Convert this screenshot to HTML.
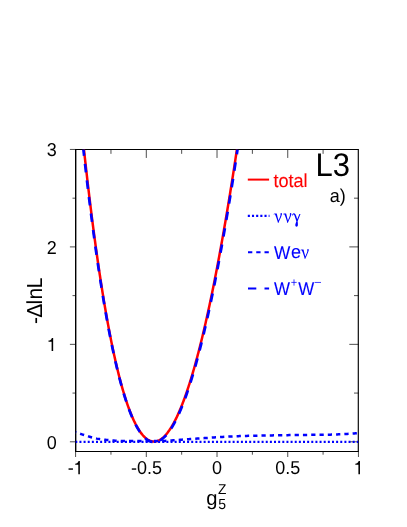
<!DOCTYPE html>
<html><head><meta charset="utf-8"><style>
html,body{margin:0;padding:0;background:#fff;}
svg{display:block;font-family:"Liberation Sans",sans-serif;will-change:transform;}
text{text-rendering:geometricPrecision;}
</style></head><body>
<svg width="407" height="527" viewBox="0 0 407 527">
<rect width="407" height="527" fill="#fff"/>
<g fill="none" stroke="#000">
<path d="M75.7,149.5 H358.4 M358.4,451.5 H75.7" stroke-width="1"/>
<path d="M358.3,149 V452" stroke-width="1.15"/>
<path d="M75.7,149 V452" stroke-width="1.4"/>
<path d="M75.70,441.80 h-5.80 M358.50,441.80 h-9.20 M75.70,393.07 h-3.20 M358.50,393.07 h-4.50 M75.70,344.35 h-5.80 M358.50,344.35 h-9.20 M75.70,295.62 h-3.20 M358.50,295.62 h-4.50 M75.70,246.90 h-5.80 M358.50,246.90 h-9.20 M75.70,198.18 h-3.20 M358.50,198.18 h-4.50 M75.70,149.45 h-5.80 M75.60,451.50 v5.50 M110.96,451.50 v3.20 M110.96,149.45 v4.40 M146.31,451.50 v5.50 M146.31,149.45 v8.50 M181.67,451.50 v3.20 M181.67,149.45 v4.40 M217.03,451.50 v5.50 M217.03,149.45 v8.50 M252.38,451.50 v3.20 M252.38,149.45 v4.40 M287.74,451.50 v5.50 M287.74,149.45 v8.50 M323.09,451.50 v3.20 M323.09,149.45 v4.40 M358.45,451.50 v5.50" stroke-width="0.7"/>
</g>
<clipPath id="cp"><rect x="75.6" y="149.45" width="282.85" height="302.05"/></clipPath>
<g fill="none" stroke-linecap="butt" stroke-linejoin="round" clip-path="url(#cp)">
<path d="M83.96,149.45 L84.09,150.63 L84.44,153.87 L84.79,157.09 L85.15,160.29 L85.50,163.47 L85.85,166.63 L86.21,169.77 L86.56,172.88 L86.91,175.97 L87.27,179.05 L87.62,182.10 L87.97,185.13 L88.33,188.14 L88.68,191.13 L89.04,194.10 L89.39,197.05 L89.74,199.97 L90.10,202.88 L90.45,205.76 L90.80,208.63 L91.16,211.47 L91.51,214.30 L91.86,217.10 L92.22,219.88 L92.57,222.65 L92.92,225.39 L93.28,228.12 L93.63,230.82 L93.99,233.51 L94.34,236.17 L94.69,238.81 L95.05,241.44 L95.40,244.04 L95.75,246.63 L96.11,249.19 L96.46,251.73 L96.81,254.25 L97.17,256.76 L97.52,259.24 L97.87,261.70 L98.23,264.15 L98.58,266.57 L98.94,268.97 L99.29,271.35 L99.64,273.72 L100.00,276.06 L100.35,278.39 L100.70,280.70 L101.06,282.99 L101.41,285.25 L101.76,287.51 L102.12,289.74 L102.47,291.95 L102.82,294.14 L103.18,296.32 L103.53,298.48 L103.88,300.62 L104.24,302.74 L104.59,304.84 L104.95,306.92 L105.30,308.99 L105.65,311.04 L106.01,313.07 L106.36,315.08 L106.71,317.08 L107.07,319.05 L107.42,321.01 L107.77,322.95 L108.13,324.87 L108.48,326.78 L108.83,328.67 L109.19,330.54 L109.54,332.39 L109.90,334.23 L110.25,336.05 L110.60,337.85 L110.96,339.63 L111.31,341.40 L111.66,343.15 L112.02,344.88 L112.37,346.60 L112.72,348.29 L113.08,349.97 L113.43,351.64 L113.78,353.28 L114.14,354.91 L114.49,356.53 L114.85,358.12 L115.20,359.70 L115.55,361.26 L115.91,362.81 L116.26,364.34 L116.61,365.85 L116.97,367.35 L117.32,368.83 L117.67,370.29 L118.03,371.74 L118.38,373.17 L118.73,374.59 L119.09,375.98 L119.44,377.37 L119.80,378.73 L120.15,380.09 L120.50,381.42 L120.86,382.74 L121.21,384.04 L121.56,385.33 L121.92,386.60 L122.27,387.85 L122.62,389.09 L122.98,390.32 L123.33,391.52 L123.68,392.72 L124.04,393.89 L124.39,395.05 L124.75,396.20 L125.10,397.33 L125.45,398.44 L125.81,399.54 L126.16,400.62 L126.51,401.69 L126.87,402.74 L127.22,403.78 L127.57,404.80 L127.93,405.81 L128.28,406.80 L128.63,407.78 L128.99,408.74 L129.34,409.69 L129.70,410.63 L130.05,411.54 L130.40,412.45 L130.76,413.34 L131.11,414.21 L131.46,415.07 L131.82,415.92 L132.17,416.75 L132.52,417.57 L132.88,418.37 L133.23,419.16 L133.58,419.93 L133.94,420.69 L134.29,421.44 L134.64,422.17 L135.00,422.88 L135.35,423.59 L135.71,424.27 L136.06,424.95 L136.41,425.61 L136.77,426.25 L137.12,426.89 L137.47,427.51 L137.83,428.11 L138.18,428.70 L138.53,429.28 L138.89,429.84 L139.24,430.39 L139.59,430.92 L139.95,431.45 L140.30,431.95 L140.66,432.45 L141.01,432.93 L141.36,433.40 L141.72,433.85 L142.07,434.29 L142.42,434.72 L142.78,435.13 L143.13,435.54 L143.48,435.92 L143.84,436.30 L144.19,436.66 L144.54,437.01 L144.90,437.34 L145.25,437.66 L145.61,437.97 L145.96,438.27 L146.31,438.55 L146.67,438.82 L147.02,439.08 L147.37,439.32 L147.73,439.55 L148.08,439.77 L148.43,439.97 L148.79,440.17 L149.14,440.35 L149.49,440.51 L149.85,440.67 L150.20,440.81 L150.56,440.94 L150.91,441.06 L151.26,441.16 L151.62,441.25 L151.97,441.33 L152.32,441.40 L152.68,441.45 L153.03,441.49 L153.38,441.52 L153.74,441.54 L154.09,441.54 L154.44,441.54 L154.80,441.52 L155.15,441.49 L155.51,441.44 L155.86,441.38 L156.21,441.32 L156.57,441.24 L156.92,441.14 L157.27,441.04 L157.63,440.92 L157.98,440.79 L158.33,440.65 L158.69,440.50 L159.04,440.33 L159.39,440.15 L159.75,439.96 L160.10,439.76 L160.45,439.54 L160.81,439.32 L161.16,439.08 L161.52,438.83 L161.87,438.56 L162.22,438.29 L162.58,438.00 L162.93,437.70 L163.28,437.39 L163.64,437.07 L163.99,436.73 L164.34,436.38 L164.70,436.03 L165.05,435.66 L165.40,435.28 L165.76,434.89 L166.11,434.48 L166.47,434.07 L166.82,433.64 L167.17,433.21 L167.53,432.76 L167.88,432.30 L168.23,431.83 L168.59,431.34 L168.94,430.85 L169.29,430.35 L169.65,429.83 L170.00,429.30 L170.35,428.76 L170.71,428.21 L171.06,427.65 L171.42,427.08 L171.77,426.49 L172.12,425.90 L172.48,425.29 L172.83,424.67 L173.18,424.05 L173.54,423.41 L173.89,422.76 L174.24,422.10 L174.60,421.42 L174.95,420.74 L175.30,420.05 L175.66,419.34 L176.01,418.63 L176.37,417.90 L176.72,417.17 L177.07,416.42 L177.43,415.66 L177.78,414.90 L178.13,414.12 L178.49,413.33 L178.84,412.53 L179.19,411.72 L179.55,410.90 L179.90,410.07 L180.25,409.23 L180.61,408.38 L180.96,407.52 L181.32,406.65 L181.67,405.77 L182.02,404.87 L182.38,403.97 L182.73,403.06 L183.08,402.13 L183.44,401.20 L183.79,400.26 L184.14,399.30 L184.50,398.34 L184.85,397.36 L185.20,396.38 L185.56,395.38 L185.91,394.38 L186.27,393.36 L186.62,392.34 L186.97,391.30 L187.33,390.26 L187.68,389.20 L188.03,388.14 L188.39,387.06 L188.74,385.98 L189.09,384.88 L189.45,383.78 L189.80,382.66 L190.15,381.54 L190.51,380.40 L190.86,379.25 L191.21,378.10 L191.57,376.93 L191.92,375.76 L192.28,374.58 L192.63,373.38 L192.98,372.18 L193.34,370.96 L193.69,369.74 L194.04,368.51 L194.40,367.26 L194.75,366.01 L195.10,364.75 L195.46,363.47 L195.81,362.19 L196.16,360.90 L196.52,359.60 L196.87,358.29 L197.23,356.97 L197.58,355.64 L197.93,354.30 L198.29,352.95 L198.64,351.59 L198.99,350.22 L199.35,348.84 L199.70,347.45 L200.05,346.05 L200.41,344.65 L200.76,343.23 L201.11,341.80 L201.47,340.37 L201.82,338.92 L202.18,337.47 L202.53,336.01 L202.88,334.53 L203.24,333.05 L203.59,331.56 L203.94,330.06 L204.30,328.54 L204.65,327.02 L205.00,325.49 L205.36,323.95 L205.71,322.41 L206.06,320.85 L206.42,319.28 L206.77,317.70 L207.13,316.12 L207.48,314.52 L207.83,312.91 L208.19,311.30 L208.54,309.68 L208.89,308.04 L209.25,306.40 L209.60,304.75 L209.95,303.09 L210.31,301.42 L210.66,299.74 L211.01,298.05 L211.37,296.35 L211.72,294.64 L212.08,292.92 L212.43,291.20 L212.78,289.46 L213.14,287.72 L213.49,285.96 L213.84,284.20 L214.20,282.43 L214.55,280.65 L214.90,278.86 L215.26,277.06 L215.61,275.25 L215.96,273.43 L216.32,271.60 L216.67,269.76 L217.03,267.92 L217.38,266.06 L217.73,264.20 L218.09,262.32 L218.44,260.44 L218.79,258.55 L219.15,256.65 L219.50,254.74 L219.85,252.82 L220.21,250.89 L220.56,248.95 L220.91,247.01 L221.27,245.05 L221.62,243.09 L221.97,241.11 L222.33,239.13 L222.68,237.14 L223.04,235.14 L223.39,233.13 L223.74,231.11 L224.10,229.08 L224.45,227.04 L224.80,225.00 L225.16,222.94 L225.51,220.88 L225.86,218.80 L226.22,216.72 L226.57,214.63 L226.92,212.53 L227.28,210.42 L227.63,208.30 L227.99,206.17 L228.34,204.03 L228.69,201.89 L229.05,199.73 L229.40,197.57 L229.75,195.39 L230.11,193.21 L230.46,191.02 L230.81,188.82 L231.17,186.61 L231.52,184.39 L231.87,182.16 L232.23,179.93 L232.58,177.68 L232.94,175.43 L233.29,173.16 L233.64,170.89 L234.00,168.61 L234.35,166.32 L234.70,164.02 L235.06,161.71 L235.41,159.39 L235.76,157.06 L236.12,154.72 L236.47,152.38 L236.82,150.02 L236.91,149.45" stroke="#ff0000" stroke-width="2.5"/>
<path d="M75.30,441.80 L358.50,441.80" stroke="#0000ff" stroke-width="2.3" stroke-dasharray="2 2.14" stroke-dashoffset="0"/>
<path d="M75.60,432.25 L77.01,432.72 L78.43,433.19 L79.84,433.66 L81.26,434.12 L82.67,434.58 L84.09,435.04 L85.50,435.50 L86.91,435.96 L88.33,436.40 L89.74,436.81 L91.16,437.20 L92.57,437.58 L93.99,437.96 L95.40,438.30 L96.81,438.61 L98.23,438.88 L99.64,439.10 L101.06,439.30 L102.47,439.48 L103.88,439.65 L105.30,439.81 L106.71,439.95 L108.13,440.09 L109.54,440.22 L110.96,440.34 L112.37,440.45 L113.78,440.55 L115.20,440.63 L116.61,440.71 L118.03,440.78 L119.44,440.85 L120.86,440.91 L122.27,440.96 L123.68,441.00 L125.10,441.02 L126.51,441.04 L127.93,441.05 L129.34,441.07 L130.76,441.08 L132.17,441.09 L133.58,441.10 L135.00,441.11 L136.41,441.11 L137.83,441.12 L139.24,441.12 L140.66,441.12 L142.07,441.12 L143.48,441.12 L144.90,441.12 L146.31,441.12 L147.73,441.12 L149.14,441.12 L150.56,441.12 L151.97,441.12 L153.38,441.12 L154.80,441.12 L156.21,441.12 L157.63,441.12 L159.04,441.11 L160.45,441.07 L161.87,441.02 L163.28,440.95 L164.70,440.88 L166.11,440.80 L167.53,440.73 L168.94,440.65 L170.35,440.56 L171.77,440.46 L173.18,440.35 L174.60,440.24 L176.01,440.12 L177.43,440.01 L178.84,439.90 L180.25,439.79 L181.67,439.69 L183.08,439.59 L184.50,439.48 L185.91,439.38 L187.33,439.28 L188.74,439.17 L190.15,439.07 L191.57,438.97 L192.98,438.87 L194.40,438.77 L195.81,438.67 L197.23,438.57 L198.64,438.47 L200.05,438.38 L201.47,438.28 L202.88,438.19 L204.30,438.10 L205.71,438.01 L207.13,437.92 L208.54,437.83 L209.95,437.74 L211.37,437.64 L212.78,437.55 L214.20,437.46 L215.61,437.37 L217.03,437.28 L218.44,437.19 L219.85,437.10 L221.27,437.01 L222.68,436.93 L224.10,436.84 L225.51,436.76 L226.92,436.68 L228.34,436.60 L229.75,436.53 L231.17,436.46 L232.58,436.39 L234.00,436.33 L235.41,436.27 L236.82,436.21 L238.24,436.16 L239.65,436.11 L241.07,436.07 L242.48,436.03 L243.90,435.99 L245.31,435.95 L246.72,435.91 L248.14,435.87 L249.55,435.84 L250.97,435.80 L252.38,435.77 L253.80,435.74 L255.21,435.71 L256.62,435.68 L258.04,435.65 L259.45,435.62 L260.87,435.60 L262.28,435.57 L263.70,435.54 L265.11,435.52 L266.52,435.49 L267.94,435.47 L269.35,435.44 L270.77,435.42 L272.18,435.39 L273.60,435.37 L275.01,435.34 L276.42,435.32 L277.84,435.30 L279.25,435.27 L280.67,435.25 L282.08,435.23 L283.49,435.21 L284.91,435.18 L286.32,435.16 L287.74,435.14 L289.15,435.12 L290.57,435.10 L291.98,435.08 L293.39,435.06 L294.81,435.04 L296.22,435.03 L297.64,435.01 L299.05,434.99 L300.47,434.97 L301.88,434.96 L303.29,434.94 L304.71,434.93 L306.12,434.92 L307.54,434.90 L308.95,434.89 L310.37,434.88 L311.78,434.87 L313.19,434.86 L314.61,434.84 L316.02,434.83 L317.44,434.82 L318.85,434.81 L320.27,434.79 L321.68,434.78 L323.09,434.76 L324.51,434.74 L325.92,434.72 L327.34,434.70 L328.75,434.67 L330.17,434.64 L331.58,434.61 L332.99,434.57 L334.41,434.52 L335.82,434.47 L337.24,434.42 L338.65,434.36 L340.06,434.30 L341.48,434.24 L342.89,434.17 L344.31,434.10 L345.72,434.03 L347.14,433.94 L348.55,433.85 L349.96,433.75 L351.38,433.65 L352.79,433.53 L354.21,433.41 L355.62,433.29 L357.04,433.16 L358.45,433.03" stroke="#0000ff" stroke-width="2.5" stroke-dasharray="4.25 4.04" stroke-dashoffset="3.55"/>
<path d="M83.39,149.45 L83.73,152.53 L84.09,155.70 L84.44,158.86 L84.79,161.99 L85.15,165.10 L85.50,168.19 L85.85,171.27 L86.21,174.32 L86.56,177.35 L86.91,180.36 L87.27,183.35 L87.62,186.31 L87.97,189.26 L88.33,192.19 L88.68,195.10 L89.04,197.99 L89.39,200.86 L89.74,203.71 L90.10,206.55 L90.45,209.36 L90.80,212.15 L91.16,214.92 L91.51,217.67 L91.86,220.41 L92.22,223.12 L92.57,225.81 L92.92,228.48 L93.28,231.14 L93.63,233.77 L93.99,236.39 L94.34,238.99 L94.69,241.56 L95.05,244.12 L95.40,246.66 L95.75,249.19 L96.11,251.69 L96.46,254.18 L96.81,256.64 L97.17,259.09 L97.52,261.53 L97.87,263.94 L98.23,266.34 L98.58,268.72 L98.94,271.08 L99.29,273.42 L99.64,275.74 L100.00,278.05 L100.35,280.34 L100.70,282.61 L101.06,284.86 L101.41,287.09 L101.76,289.31 L102.12,291.51 L102.47,293.69 L102.82,295.85 L103.18,297.99 L103.53,300.12 L103.88,302.23 L104.24,304.32 L104.59,306.39 L104.95,308.45 L105.30,310.49 L105.65,312.51 L106.01,314.51 L106.36,316.50 L106.71,318.46 L107.07,320.41 L107.42,322.35 L107.77,324.26 L108.13,326.16 L108.48,328.04 L108.83,329.91 L109.19,331.75 L109.54,333.58 L109.90,335.39 L110.25,337.19 L110.60,338.97 L110.96,340.73 L111.31,342.48 L111.66,344.20 L112.02,345.91 L112.37,347.61 L112.72,349.29 L113.08,350.95 L113.43,352.60 L113.78,354.22 L114.14,355.84 L114.49,357.43 L114.85,359.01 L115.20,360.58 L115.55,362.13 L115.91,363.66 L116.26,365.17 L116.61,366.67 L116.97,368.15 L117.32,369.62 L117.67,371.07 L118.03,372.51 L118.38,373.92 L118.73,375.33 L119.09,376.71 L119.44,378.08 L119.80,379.44 L120.15,380.78 L120.50,382.10 L120.86,383.41 L121.21,384.70 L121.56,385.98 L121.92,387.24 L122.27,388.49 L122.62,389.72 L122.98,390.93 L123.33,392.13 L123.68,393.32 L124.04,394.49 L124.39,395.64 L124.75,396.78 L125.10,397.91 L125.45,399.02 L125.81,400.12 L126.16,401.20 L126.51,402.26 L126.87,403.31 L127.22,404.35 L127.57,405.37 L127.93,406.37 L128.28,407.36 L128.63,408.34 L128.99,409.30 L129.34,410.24 L129.70,411.17 L130.05,412.09 L130.40,412.99 L130.76,413.88 L131.11,414.75 L131.46,415.61 L131.82,416.45 L132.17,417.28 L132.52,418.10 L132.88,418.90 L133.23,419.68 L133.58,420.46 L133.94,421.21 L134.29,421.96 L134.64,422.69 L135.00,423.40 L135.35,424.10 L135.71,424.79 L136.06,425.46 L136.41,426.12 L136.77,426.77 L137.12,427.40 L137.47,428.02 L137.83,428.62 L138.18,429.21 L138.53,429.79 L138.89,430.35 L139.24,430.90 L139.59,431.44 L139.95,431.96 L140.30,432.47 L140.66,432.96 L141.01,433.44 L141.36,433.91 L141.72,434.36 L142.07,434.80 L142.42,435.23 L142.78,435.65 L143.13,436.05 L143.48,436.43 L143.84,436.81 L144.19,437.17 L144.54,437.52 L144.90,437.85 L145.25,438.17 L145.61,438.48 L145.96,438.78 L146.31,439.06 L146.67,439.33 L147.02,439.59 L147.37,439.83 L147.73,440.06 L148.08,440.28 L148.43,440.49 L148.79,440.68 L149.14,440.86 L149.49,441.03 L149.85,441.18 L150.20,441.32 L150.56,441.45 L150.91,441.57 L151.26,441.67 L151.62,441.76 L151.97,441.84 L152.32,441.91 L152.68,441.96 L153.03,442.00 L153.38,442.03 L153.74,442.05 L154.09,442.06" stroke="#0000ff" stroke-width="2.7" stroke-dasharray="8.45 8.2" stroke-dashoffset="2.11"/>
<path d="M237.54,149.45 L237.53,149.50 L237.18,151.86 L236.82,154.22 L236.47,156.56 L236.12,158.89 L235.76,161.22 L235.41,163.54 L235.06,165.84 L234.70,168.14 L234.35,170.43 L234.00,172.71 L233.64,174.98 L233.29,177.24 L232.94,179.49 L232.58,181.74 L232.23,183.97 L231.87,186.19 L231.52,188.41 L231.17,190.61 L230.81,192.81 L230.46,195.00 L230.11,197.18 L229.75,199.35 L229.40,201.51 L229.05,203.66 L228.69,205.80 L228.34,207.93 L227.99,210.05 L227.63,212.17 L227.28,214.27 L226.92,216.37 L226.57,218.45 L226.22,220.53 L225.86,222.60 L225.51,224.66 L225.16,226.71 L224.80,228.75 L224.45,230.78 L224.10,232.80 L223.74,234.81 L223.39,236.82 L223.04,238.81 L222.68,240.80 L222.33,242.77 L221.97,244.74 L221.62,246.70 L221.27,248.64 L220.91,250.58 L220.56,252.51 L220.21,254.43 L219.85,256.35 L219.50,258.25 L219.15,260.14 L218.79,262.03 L218.44,263.90 L218.09,265.77 L217.73,267.62 L217.38,269.47 L217.03,271.31 L216.67,273.14 L216.32,274.96 L215.96,276.77 L215.61,278.57 L215.26,280.36 L214.90,282.15 L214.55,283.92 L214.20,285.68 L213.84,287.44 L213.49,289.18 L213.14,290.92 L212.78,292.65 L212.43,294.37 L212.08,296.08 L211.72,297.78 L211.37,299.47 L211.01,301.15 L210.66,302.82 L210.31,304.48 L209.95,306.13 L209.60,307.78 L209.25,309.41 L208.89,311.04 L208.54,312.65 L208.19,314.26 L207.83,315.86 L207.48,317.45 L207.13,319.02 L206.77,320.59 L206.42,322.15 L206.06,323.70 L205.71,325.25 L205.36,326.78 L205.00,328.30 L204.65,329.81 L204.30,331.32 L203.94,332.81 L203.59,334.30 L203.24,335.77 L202.88,337.24 L202.53,338.69 L202.18,340.14 L201.82,341.58 L201.47,343.01 L201.11,344.42 L200.76,345.83 L200.41,347.23 L200.05,348.62 L199.70,350.00 L199.35,351.37 L198.99,352.73 L198.64,354.08 L198.29,355.42 L197.93,356.75 L197.58,358.08 L197.23,359.39 L196.87,360.69 L196.52,361.98 L196.16,363.27 L195.81,364.54 L195.46,365.80 L195.10,367.06 L194.75,368.30 L194.40,369.54 L194.04,370.76 L193.69,371.98 L193.34,373.18 L192.98,374.38 L192.63,375.56 L192.28,376.74 L191.92,377.90 L191.57,379.06 L191.21,380.20 L190.86,381.34 L190.51,382.47 L190.15,383.58 L189.80,384.69 L189.45,385.78 L189.09,386.87 L188.74,387.95 L188.39,389.01 L188.03,390.07 L187.68,391.12 L187.33,392.15 L186.97,393.18 L186.62,394.19 L186.27,395.20 L185.91,396.20 L185.56,397.18 L185.20,398.16 L184.85,399.12 L184.50,400.08 L184.14,401.02 L183.79,401.96 L183.44,402.88 L183.08,403.79 L182.73,404.70 L182.38,405.59 L182.02,406.47 L181.67,407.35 L181.32,408.21 L180.96,409.06 L180.61,409.90 L180.25,410.74 L179.90,411.56 L179.55,412.37 L179.19,413.17 L178.84,413.96 L178.49,414.74 L178.13,415.50 L177.78,416.26 L177.43,417.01 L177.07,417.74 L176.72,418.47 L176.37,419.18 L176.01,419.89 L175.66,420.58 L175.30,421.26 L174.95,421.93 L174.60,422.60 L174.24,423.25 L173.89,423.89 L173.54,424.52 L173.18,425.13 L172.83,425.74 L172.48,426.34 L172.12,426.92 L171.77,427.50 L171.42,428.06 L171.06,428.62 L170.71,429.16 L170.35,429.69 L170.00,430.21 L169.65,430.72 L169.29,431.22 L168.94,431.71 L168.59,432.19 L168.23,432.66 L167.88,433.12 L167.53,433.56 L167.17,434.00 L166.82,434.42 L166.47,434.83 L166.11,435.23 L165.76,435.62 L165.40,436.00 L165.05,436.36 L164.70,436.72 L164.34,437.06 L163.99,437.39 L163.64,437.71 L163.28,438.02 L162.93,438.32 L162.58,438.61 L162.22,438.88 L161.87,439.15 L161.52,439.40 L161.16,439.64 L160.81,439.87 L160.45,440.09 L160.10,440.30 L159.75,440.50 L159.39,440.68 L159.04,440.85 L158.69,441.02 L158.33,441.17 L157.98,441.31 L157.63,441.43 L157.27,441.55 L156.92,441.66 L156.57,441.75 L156.21,441.83 L155.86,441.90 L155.51,441.95 L155.15,442.00 L154.80,442.03 L154.44,442.05 L154.09,442.06" stroke="#0000ff" stroke-width="2.7" stroke-dasharray="8.45 8.2" stroke-dashoffset="3.55"/>
</g>
<g fill="#000"><text transform="translate(56.70,448.50) scale(1.0000,1.0350)" font-size="18.00px" text-anchor="end">0</text><text transform="translate(56.70,253.60) scale(1.0000,1.0350)" font-size="18.00px" text-anchor="end">2</text><text transform="translate(56.70,156.15) scale(1.0000,1.0350)" font-size="18.00px" text-anchor="end">3</text><path transform="translate(46.70,351.05) scale(0.01800,-0.01863)" d="M359,0 L273,0 L273,505 L101,505 L101,565 C190,565 250,610 289,703 L359,703 Z"/><text transform="translate(146.41,474.20) scale(1.0000,1.0350)" font-size="18.00px" text-anchor="middle">-0.5</text><text transform="translate(217.12,474.20) scale(1.0000,1.0350)" font-size="18.00px" text-anchor="middle">0</text><text transform="translate(287.84,474.20) scale(1.0000,1.0350)" font-size="18.00px" text-anchor="middle">0.5</text><text transform="translate(67.70,474.20) scale(1.0000,1.0350)" font-size="18.00px">-</text><path transform="translate(73.40,474.20) scale(0.01800,-0.01863)" d="M359,0 L273,0 L273,505 L101,505 L101,565 C190,565 250,610 289,703 L359,703 Z"/><path transform="translate(353.50,474.20) scale(0.01800,-0.01863)" d="M359,0 L273,0 L273,505 L101,505 L101,565 C190,565 250,610 289,703 L359,703 Z"/></g>
<g fill="none" stroke-linecap="butt">
<path d="M247.8,179.6 H269.1" stroke="#ff0000" stroke-width="2"/>
<path d="M247.8,215.9 H269.5" stroke="#0000ff" stroke-width="2.3" stroke-dasharray="2.1 2.07"/>
<path d="M248,252.3 H269.1" stroke="#0000ff" stroke-width="1.9" stroke-dasharray="4.3 3.95"/>
<path d="M248,288.4 H269.1" stroke="#0000ff" stroke-width="2" stroke-dasharray="8.3 8.2"/>
</g>
<g fill="#000"><text transform="translate(42.2,323.90) rotate(-90) scale(1.000,1.035)" font-size="21.00px">-</text><text transform="translate(42.2,317.70) rotate(-90) scale(1.000,1.035)" font-size="21.00px">Δ</text><text transform="translate(42.2,304.50) rotate(-90) scale(1.000,1.035)" font-size="21.00px">l</text><text transform="translate(42.2,299.40) rotate(-90) scale(1.000,1.035)" font-size="21.00px">n</text><text transform="translate(42.2,288.30) rotate(-90) scale(0.920,1.035)" font-size="21.00px">L</text><text transform="translate(206.30,504.90) scale(1.0000,1.0200)" font-size="20.20px">g</text><text transform="translate(218.00,493.60) scale(1.0000,1.0350)" font-size="13.70px">Z</text><text transform="translate(218.20,508.60) scale(1.0000,1.0350)" font-size="14.00px">5</text><text transform="translate(315.40,176.30) scale(0.9850,1.0350)" font-size="31.50px">L3</text><text transform="translate(329.80,201.60) scale(1.0000,1.0350)" font-size="18.00px">a)</text><text transform="translate(273.40,186.50) scale(1.0000,1.0350)" font-size="18.10px" fill="#ff0000" stroke="#ff0000" stroke-width="0.12">total</text><path transform="translate(273.50,222.90)" d="M0.1,-8.8 L1.3,-9.5 L3.2,-9.5 C3.7,-7.5 4.4,-4.8 5.0,-2.4 C5.9,-4.2 6.9,-6.6 7.1,-7.8 C7.2,-8.3 6.9,-8.6 6.9,-9.0 C6.9,-9.5 7.3,-9.8 7.7,-9.8 C8.2,-9.8 8.5,-9.4 8.5,-8.9 C8.5,-7.9 6.4,-3.2 4.85,0.1 L4.5,0.1 C3.8,-2.6 2.6,-6.4 1.7,-8.2 C1.4,-8.7 0.9,-8.8 0.2,-8.5 Z" fill="#0000ff"/><path transform="translate(282.90,222.90)" d="M0.1,-8.8 L1.3,-9.5 L3.2,-9.5 C3.7,-7.5 4.4,-4.8 5.0,-2.4 C5.9,-4.2 6.9,-6.6 7.1,-7.8 C7.2,-8.3 6.9,-8.6 6.9,-9.0 C6.9,-9.5 7.3,-9.8 7.7,-9.8 C8.2,-9.8 8.5,-9.4 8.5,-8.9 C8.5,-7.9 6.4,-3.2 4.85,0.1 L4.5,0.1 C3.8,-2.6 2.6,-6.4 1.7,-8.2 C1.4,-8.7 0.9,-8.8 0.2,-8.5 Z" fill="#0000ff"/><path transform="translate(291.80,222.90)" d="M0.1,-7.3 C0.3,-8.8 1.1,-9.7 2.0,-9.7 C3.2,-9.7 3.9,-8.6 4.4,-6.9 L5.4,-3.6 L7.6,-9.0 L8.7,-9.0 L5.8,-1.6 C6.0,-0.5 6.2,1.0 6.1,2.2 C6.0,3.3 5.5,3.9 4.8,3.9 C4.0,3.9 3.5,3.2 3.5,2.2 C3.5,1.0 4.2,-0.6 4.6,-1.7 L3.0,-6.5 C2.6,-7.8 2.2,-8.4 1.6,-8.4 C1.1,-8.4 0.8,-7.9 0.6,-7.2 Z" fill="#0000ff"/><text transform="translate(274.00,258.50) scale(0.9600,1.0350)" font-size="18.00px" fill="#0000ff" stroke="#0000ff" stroke-width="0.12">W</text><text transform="translate(291.00,258.40) scale(1.0000,1.0350)" font-size="18.00px" fill="#0000ff" stroke="#0000ff" stroke-width="0.12">e</text><path transform="translate(300.30,258.90)" d="M0.1,-8.8 L1.3,-9.5 L3.2,-9.5 C3.7,-7.5 4.4,-4.8 5.0,-2.4 C5.9,-4.2 6.9,-6.6 7.1,-7.8 C7.2,-8.3 6.9,-8.6 6.9,-9.0 C6.9,-9.5 7.3,-9.8 7.7,-9.8 C8.2,-9.8 8.5,-9.4 8.5,-8.9 C8.5,-7.9 6.4,-3.2 4.85,0.1 L4.5,0.1 C3.8,-2.6 2.6,-6.4 1.7,-8.2 C1.4,-8.7 0.9,-8.8 0.2,-8.5 Z" fill="#0000ff"/><text transform="translate(274.10,294.70) scale(0.9400,1.0350)" font-size="18.00px" fill="#0000ff" stroke="#0000ff" stroke-width="0.12">W</text><text transform="translate(298.15,294.70) scale(0.9400,1.0350)" font-size="18.00px" fill="#0000ff" stroke="#0000ff" stroke-width="0.12">W</text><path d="M291.3,282.4 H296.7 M294.0,279.4 V285.6 M314.7,282.45 H321" fill="none" stroke="#0000ff" stroke-width="0.75"/></g>
</svg>
</body></html>
